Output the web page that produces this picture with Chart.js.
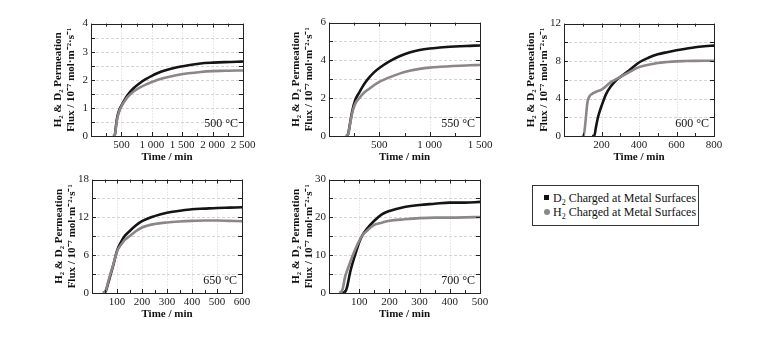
<!DOCTYPE html>
<html>
<head>
<meta charset="utf-8">
<script src="https://cdn.jsdelivr.net/npm/chart.js@4.4.1/dist/chart.umd.min.js"></script>
<style>
  body { margin: 0; background: #fff; width: 779px; height: 338px; position: relative; overflow: hidden; font-family: "Liberation Serif", "Times New Roman", serif; }
  canvas { position: absolute; }
  #legenda { position: absolute; left: 532px; top: 185px; width: 165px; height: 39px; border: 1px solid #333; font-size: 12px; color: #111; }
  #legenda div { position: absolute; left: 20px; white-space: nowrap; line-height: 14px; }
  #legenda span.m { position: absolute; left: -9px; top: 4px; width: 5px; height: 5px; background: #111; }
  #legenda span.c { position: absolute; left: -9px; top: 4px; width: 6px; height: 6px; border-radius: 50%; background: #8c8589; }
  sub { font-size: 8px; vertical-align: -3px; }
</style>
</head>
<body>
<canvas id="g500"></canvas>
<canvas id="g550"></canvas>
<canvas id="g600"></canvas>
<canvas id="g650"></canvas>
<canvas id="g700"></canvas>
<div id="legenda">
  <div style="top:5px"><span class="m"></span>D<sub>2</sub> Charged at Metal Surfaces</div>
  <div style="top:19px"><span class="c"></span>H<sub>2</sub> Charged at Metal Surfaces</div>
</div>
<script>
// ---- 500 ºC
const tempo500 = [360, 390, 410, 430, 460, 500, 550, 600, 700, 800, 900, 1000, 1100, 1200, 1400, 1600, 1800, 2000, 2200, 2400, 2500];
const d2_500 = [0, 0.02, 0.35, 0.65, 0.9, 1.08, 1.28, 1.45, 1.7, 1.88, 2.02, 2.14, 2.24, 2.32, 2.44, 2.52, 2.58, 2.61, 2.63, 2.64, 2.65];
const h2_500 = [0, 0.02, 0.3, 0.6, 0.85, 1.05, 1.23, 1.38, 1.58, 1.72, 1.83, 1.92, 2.0, 2.06, 2.16, 2.23, 2.28, 2.31, 2.32, 2.33, 2.33];
const xTicks500 = [500, 1000, 1500, 2000, 2500];
const xLabels500 = ['500', '1 000', '1 500', '2 000', '2 500'];
const yTicks500 = [0, 1, 2, 3, 4];

// ---- 550 ºC
const tempo550 = [170, 190, 210, 230, 260, 300, 350, 400, 450, 500, 600, 700, 800, 900, 1000, 1100, 1200, 1300, 1400, 1500];
const d2_550 = [0, 0.1, 0.7, 1.3, 1.9, 2.3, 2.75, 3.1, 3.38, 3.6, 3.95, 4.22, 4.42, 4.55, 4.63, 4.68, 4.72, 4.75, 4.77, 4.79];
const h2_550 = [0, 0.1, 0.65, 1.2, 1.7, 2.0, 2.3, 2.5, 2.7, 2.86, 3.1, 3.3, 3.45, 3.55, 3.62, 3.66, 3.69, 3.72, 3.74, 3.76];
const xTicks550 = [500, 1000, 1500];
const xLabels550 = ['500', '1 000', '1 500'];
const yTicks550 = [0, 2, 4, 6];

// ---- 600 ºC (D2 e H2 começam em tempos diferentes)
const tempoD2_600 = [150, 162, 170, 180, 190, 200, 225, 250, 275, 300, 350, 400, 450, 500, 550, 600, 650, 700, 750, 800];
const d2_600 = [0, 0.05, 0.9, 1.9, 2.6, 3.2, 4.5, 5.3, 5.9, 6.3, 7.05, 7.85, 8.35, 8.72, 8.95, 9.15, 9.32, 9.48, 9.58, 9.65];
const tempoH2_600 = [95, 105, 115, 125, 135, 150, 175, 200, 250, 300, 350, 400, 450, 500, 550, 600, 650, 700, 750, 800];
const h2_600 = [0, 0.05, 1.6, 3.6, 4.2, 4.5, 4.75, 4.95, 5.75, 6.3, 6.85, 7.35, 7.6, 7.8, 7.9, 7.97, 8.0, 8.02, 8.03, 8.03];
const xTicks600 = [200, 400, 600, 800];
const xLabels600 = ['200', '400', '600', '800'];
const yTicks600 = [0, 4, 8, 12];

// ---- 650 ºC
const tempo650 = [45, 55, 65, 75, 85, 100, 115, 130, 150, 175, 200, 250, 300, 350, 400, 450, 500, 550, 600];
const d2_650 = [0, 0.3, 1.6, 3.0, 4.4, 6.7, 8.0, 9.0, 9.8, 10.7, 11.4, 12.2, 12.75, 13.05, 13.3, 13.4, 13.5, 13.55, 13.6];
const h2_650 = [0, 0.4, 1.8, 3.2, 4.5, 6.6, 7.6, 8.4, 9.0, 9.8, 10.4, 10.95, 11.2, 11.35, 11.45, 11.5, 11.5, 11.45, 11.4];
const xTicks650 = [100, 200, 300, 400, 500, 600];
const xLabels650 = ['100', '200', '300', '400', '500', '600'];
const yTicks650 = [0, 6, 12, 18];

// ---- 700 ºC
const tempoD2_700 = [45, 55, 60, 70, 80, 90, 100, 110, 125, 150, 175, 200, 250, 300, 350, 400, 450, 500];
const d2_700 = [0, 0.5, 1.6, 5.5, 8.4, 11.0, 13.4, 15.2, 16.9, 19.1, 20.8, 21.7, 22.75, 23.3, 23.6, 23.9, 23.9, 24.1];
const tempoH2_700 = [35, 45, 53, 64, 76, 87, 100, 110, 125, 150, 175, 200, 250, 300, 350, 400, 450, 500];
const h2_700 = [0, 1.0, 4.2, 6.8, 9.4, 11.6, 13.8, 15.2, 16.4, 18.0, 18.6, 19.1, 19.5, 19.8, 19.95, 19.95, 20.0, 20.1];
const xTicks700 = [100, 200, 300, 400, 500];
const xLabels700 = ['100', '200', '300', '400', '500'];
const yTicks700 = [0, 10, 20, 30];

const corD2 = '#141414';
const corH2 = '#8c8589';
const fonte = '"Liberation Serif", "Times New Roman", serif';

function pontos(ts, vs) {
  return ts.map((t, i) => ({ x: t, y: vs[i] }));
}

// desenha grade tracejada, moldura, marcas internas e a temperatura
const moldura = {
  id: 'moldura',
  beforeDatasetsDraw(chart, args, opts) {
    const { ctx, chartArea: a, scales: { x, y } } = chart;
    ctx.save();
    ctx.lineWidth = 1;
    ctx.strokeStyle = '#d4d4d4';
    ctx.setLineDash([3, 2]);
    y.ticks.forEach(t => {
      if (t.value <= y.min || t.value >= y.max) return;
      const py = Math.round(y.getPixelForValue(t.value)) + 0.5;
      ctx.beginPath(); ctx.moveTo(a.left, py); ctx.lineTo(a.right, py); ctx.stroke();
    });
    ctx.setLineDash([1, 2]);
    x.ticks.forEach(t => {
      if (!opts.xMaj.includes(t.value) || t.value >= x.max) return;
      const px = Math.round(x.getPixelForValue(t.value)) + 0.5;
      ctx.beginPath(); ctx.moveTo(px, a.top); ctx.lineTo(px, a.bottom); ctx.stroke();
    });
    ctx.restore();
  },
  afterDatasetsDraw(chart, args, opts) {
    const { ctx, chartArea: a, scales: { x, y } } = chart;
    ctx.save();
    ctx.setLineDash([]);
    ctx.strokeStyle = '#222';
    ctx.lineWidth = 1;
    ctx.strokeRect(Math.round(a.left) + 0.5, Math.round(a.top) + 0.5, Math.round(a.right - a.left), Math.round(a.bottom - a.top));
    ctx.beginPath();
    x.ticks.forEach(t => {
      const px = Math.round(x.getPixelForValue(t.value)) + 0.5;
      const len = opts.xMaj.includes(t.value) ? 4 : 3;
      ctx.moveTo(px, a.bottom); ctx.lineTo(px, a.bottom - len);
      ctx.moveTo(px, a.top); ctx.lineTo(px, a.top + len);
    });
    y.ticks.forEach(t => {
      const py = Math.round(y.getPixelForValue(t.value)) + 0.5;
      ctx.moveTo(a.left, py); ctx.lineTo(a.left + 4, py);
      ctx.moveTo(a.right, py); ctx.lineTo(a.right - 4, py);
    });
    ctx.stroke();
    ctx.fillStyle = '#111';
    ctx.font = '12px ' + fonte;
    ctx.textAlign = 'right';
    ctx.textBaseline = 'alphabetic';
    ctx.fillText(opts.temp, a.right - 5, a.bottom - 9);
    ctx.restore();
  }
};

const paineis = [
  { id: 'g500', area: [91, 22, 243, 136], xMax: 2500, xStep: 250, yMax: 4, yStep: 0.5, xMaj: xTicks500, xLab: xLabels500, yMaj: yTicks500, temp: '500 °C',
    d2: pontos(tempo500, d2_500), h2: pontos(tempo500, h2_500) },
  { id: 'g550', area: [329, 21, 480, 136], xMax: 1500, xStep: 250, yMax: 6, yStep: 1, xMaj: xTicks550, xLab: xLabels550, yMaj: yTicks550, temp: '550 °C',
    d2: pontos(tempo550, d2_550), h2: pontos(tempo550, h2_550) },
  { id: 'g600', area: [564, 22, 714, 136], xMax: 800, xStep: 100, yMax: 12, yStep: 2, xMaj: xTicks600, xLab: xLabels600, yMaj: yTicks600, temp: '600 °C',
    d2: pontos(tempoD2_600, d2_600), h2: pontos(tempoH2_600, h2_600) },
  { id: 'g650', area: [92, 178, 242, 293], xMax: 600, xStep: 50, yMax: 18, yStep: 3, xMaj: xTicks650, xLab: xLabels650, yMaj: yTicks650, temp: '650 °C',
    d2: pontos(tempo650, d2_650), h2: pontos(tempo650, h2_650) },
  { id: 'g700', area: [329, 178, 480, 293], xMax: 500, xStep: 50, yMax: 30, yStep: 5, xMaj: xTicks700, xLab: xLabels700, yMaj: yTicks700, temp: '700 °C',
    d2: pontos(tempoD2_700, d2_700), h2: pontos(tempoH2_700, h2_700) }
];

const larguraY = 40, alturaX = 28, padTopo = 8, padDir = 22;

paineis.forEach(p => {
  const [L, T, R, B] = p.area;
  const cv = document.getElementById(p.id);
  cv.width = R - L + larguraY + padDir;
  cv.height = B - T + padTopo + alturaX;
  cv.style.left = (L - larguraY) + 'px';
  cv.style.top = (T - padTopo) + 'px';

  new Chart(cv, {
    type: 'line',
    data: {
      datasets: [
        { label: 'H2', data: p.h2, borderColor: corH2, backgroundColor: corH2, borderWidth: 2.6, pointRadius: 0, cubicInterpolationMode: 'monotone' },
        { label: 'D2', data: p.d2, borderColor: corD2, backgroundColor: corD2, borderWidth: 2.6, pointRadius: 0, cubicInterpolationMode: 'monotone' }
      ]
    },
    options: {
      responsive: false,
      animation: false,
      layout: { padding: { top: padTopo, right: padDir, left: 0, bottom: 0 } },
      plugins: {
        legend: { display: false },
        tooltip: { enabled: false },
        moldura: { temp: p.temp, xMaj: p.xMaj }
      },
      scales: {
        x: {
          type: 'linear', min: 0, max: p.xMax,
          grid: { display: false, drawTicks: false },
          border: { display: false },
          ticks: {
            stepSize: p.xStep, autoSkip: false, maxRotation: 0, padding: 3, color: '#222',
            font: { family: fonte, size: 11 },
            callback: v => { const i = p.xMaj.indexOf(v); return i >= 0 ? p.xLab[i] : ''; }
          },
          title: { display: true, text: 'Time / min', color: '#111', padding: 0, font: { family: fonte, size: 11, weight: 'bold', lineHeight: 1.25 } },
          afterFit: s => { s.height = alturaX; }
        },
        y: {
          min: 0, max: p.yMax,
          grid: { display: false, drawTicks: false },
          border: { display: false },
          ticks: {
            stepSize: p.yStep, autoSkip: false, padding: 3, color: '#222',
            font: { family: fonte, size: 11 },
            callback: v => p.yMaj.includes(v) ? String(v) : ''
          },
          title: { display: true, text: ['H₂ & D₂ Permeation', 'Flux / 10⁻⁷ mol·m⁻²·s⁻¹'], color: '#111', padding: 0,
            font: { family: fonte, size: 11, weight: 'bold', lineHeight: 1.25 } },
          afterFit: s => { s.width = larguraY; }
        }
      }
    },
    plugins: [moldura]
  });
});
</script>
</body>
</html>
